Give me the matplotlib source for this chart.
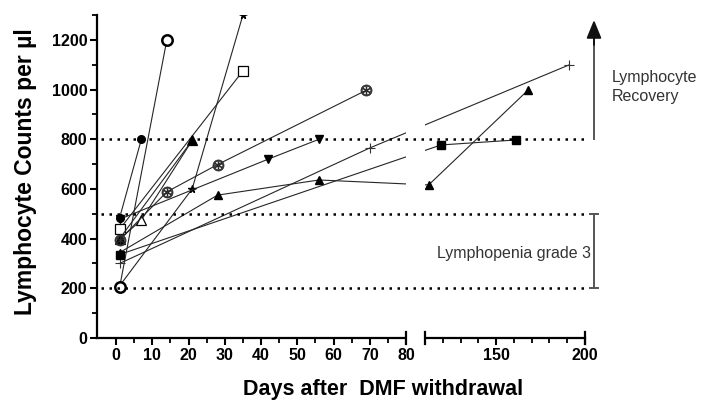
import numpy as np
import matplotlib
matplotlib.use('Agg')
import matplotlib.pyplot as plt

plt.rcParams['font.family'] = ['Liberation Sans', 'DejaVu Sans']

# lymphocyte counts per patient (days after DMF withdrawal, cells/ul)
days_dot = [1, 7]
counts_dot = [484, 800]
days_tri_down = [1, 42, 56]
counts_tri_down = [478, 720, 800]
days_open_sq = [1, 35]
counts_open_sq = [438, 1075]
days_cast = [1, 14, 28, 69]
counts_cast = [395, 588, 698, 997]
days_open_tri = [1, 7, 21]
counts_open_tri = [398, 475, 795]
days_tri_a = [1, 21]
counts_tri_a = [400, 795]
days_open_circ = [1, 14]
counts_open_circ = [205, 1198]
days_star = [1, 21, 35]
counts_star = [210, 600, 1300]
days_plus = [1, 70, 191]
counts_plus = [300, 765, 1099]
days_sq = [1, 119, 161]
counts_sq = [336, 777, 797]
days_tri_b = [1, 28, 56, 112, 168]
counts_tri_b = [344, 575, 636, 616, 998]

thresholds = [800, 500, 200]
xticks_major = [0, 10, 20, 30, 40, 50, 60, 70, 80, 150, 200]
xticks_minor = [5, 15, 25, 35, 45, 55, 65, 75, 120, 130, 140, 160, 170, 180, 190]

# broken x axis: 0-80 full scale, 110-200 squeezed
GAP = 5.24
SQ = 0.49

def fwd(d):
    d = np.asarray(d, dtype=float)
    return np.where(d <= 80, d,
                    np.where(d >= 110, 80 + GAP + (d - 110) * SQ,
                             80 + (d - 80) * GAP / 30))

def inv(u):
    u = np.asarray(u, dtype=float)
    return np.where(u <= 80, u,
                    np.where(u >= 80 + GAP, 110 + (u - 80 - GAP) / SQ,
                             80 + (u - 80) * 30 / GAP))

fig = plt.figure(figsize=(7.10, 4.07), dpi=100)
ax = fig.add_axes([97 / 710, 69 / 407, 488 / 710, 323 / 407])
ax.set_xscale('function', functions=(fwd, inv))

lc = '#262626'
series = [
    (days_star, counts_star, dict(marker='*', ms=5.5, mfc='k', mec='k')),
    (days_dot, counts_dot, dict(marker='o', ms=5.5, mfc='k', mec='k')),
    (days_tri_down, counts_tri_down, dict(marker='v', ms=5.5, mfc='k', mec='k')),
    (days_open_sq, counts_open_sq, dict(marker='s', ms=6.5, mfc='white', mec='k', mew=0.9)),
    (days_open_tri, counts_open_tri, dict(marker='^', ms=7, mfc='white', mec='k', mew=0.9)),
    (days_tri_a, counts_tri_a, dict(marker='^', ms=6, mfc='k', mec='k')),
    (days_cast, counts_cast, dict(marker=r'$\circledast$', ms=8, mfc='#444', mec='#222', mew=0.5)),
    (days_open_circ, counts_open_circ, dict(marker='o', ms=7.5, mfc='white', mec='k', mew=1.8)),
    (days_plus, counts_plus, dict(marker='+', ms=7, mec='#333', mew=0.8)),
    (days_tri_b, counts_tri_b, dict(marker='^', ms=5.5, mfc='k', mec='k')),
    (days_sq, counts_sq, dict(marker='s', ms=5.5, mfc='k', mec='k')),
]
for d, c, st in series:
    ax.plot(d, c, color=lc, lw=0.8, zorder=2, **st)

ax.set_xlim(-5.24, 200)
ax.set_ylim(0, 1300)

# blank the break in data lines and the bottom spine
ax.axvspan(80.5, 109.5, ymin=-0.03, ymax=1.0, color='white', zorder=2.6, clip_on=False, lw=0)
for xb in [80, 110, 200]:
    ax.plot([xb, xb], [-0.02, 0.02], color='k', lw=1.6, transform=ax.get_xaxis_transform(),
            clip_on=False, zorder=3)

for t in thresholds:
    ax.axhline(t, xmin=0.008, xmax=1.007, color='k', lw=1.8, linestyle=(0, (1, 2.2)),
               clip_on=False, zorder=3)

ax.spines['top'].set_visible(False)
ax.spines['right'].set_visible(False)
ax.spines['left'].set_linewidth(1.6)
ax.spines['bottom'].set_linewidth(1.6)

ax.set_xticks(xticks_major)
ax.set_xticks(xticks_minor, minor=True)
ax.set_yticks(range(0, 1201, 200))
ax.set_yticks(range(100, 1301, 100), minor=True)
ax.tick_params(which='major', length=5, width=1.5, pad=2, labelsize=11.5)
ax.tick_params(which='minor', length=3.5, width=1.3)
for lab in ax.get_xticklabels() + ax.get_yticklabels():
    lab.set_fontweight('bold')

fig.text(26 / 710, 1 - 172 / 407, 'Lymphocyte Counts per µl', rotation=90,
         ha='center', va='center', fontsize=16.5, fontweight='bold')
fig.text(383 / 710, 1 - 389 / 407, 'Days after  DMF withdrawal',
         ha='center', va='center', fontsize=15.5, fontweight='bold')

# recovery arrow and grade 3 bracket
tr = ax.get_yaxis_transform()
xa = (594 - 97) / 488
ax.plot([xa, xa], [800, 1200], color='#555', lw=1.4, transform=tr, clip_on=False)
ax.annotate('', xy=(xa, 1280), xytext=(xa, 1180), xycoords=tr, textcoords=tr,
            arrowprops=dict(arrowstyle='-|>,head_length=1.1,head_width=0.45',
                            color='#111', lw=1.4, shrinkA=0, shrinkB=0),
            annotation_clip=False)
ax.plot([xa, xa], [200, 500], color='#555', lw=1.4, transform=tr, clip_on=False)
for yb in [200, 500]:
    ax.plot([xa - 0.009, xa + 0.009], [yb, yb], color='#555', lw=1.4, transform=tr, clip_on=False)

ax.text((612 - 97) / 488, 1010, 'Lymphocyte\nRecovery', transform=tr, ha='left', va='center',
        fontsize=11.5, color='#333', linespacing=1.3)
ax.text((437 - 97) / 488, 342, 'Lymphopenia grade 3', transform=tr, ha='left', va='center',
        fontsize=11.5, color='#333')

fig.savefig('out.png', dpi=100)
